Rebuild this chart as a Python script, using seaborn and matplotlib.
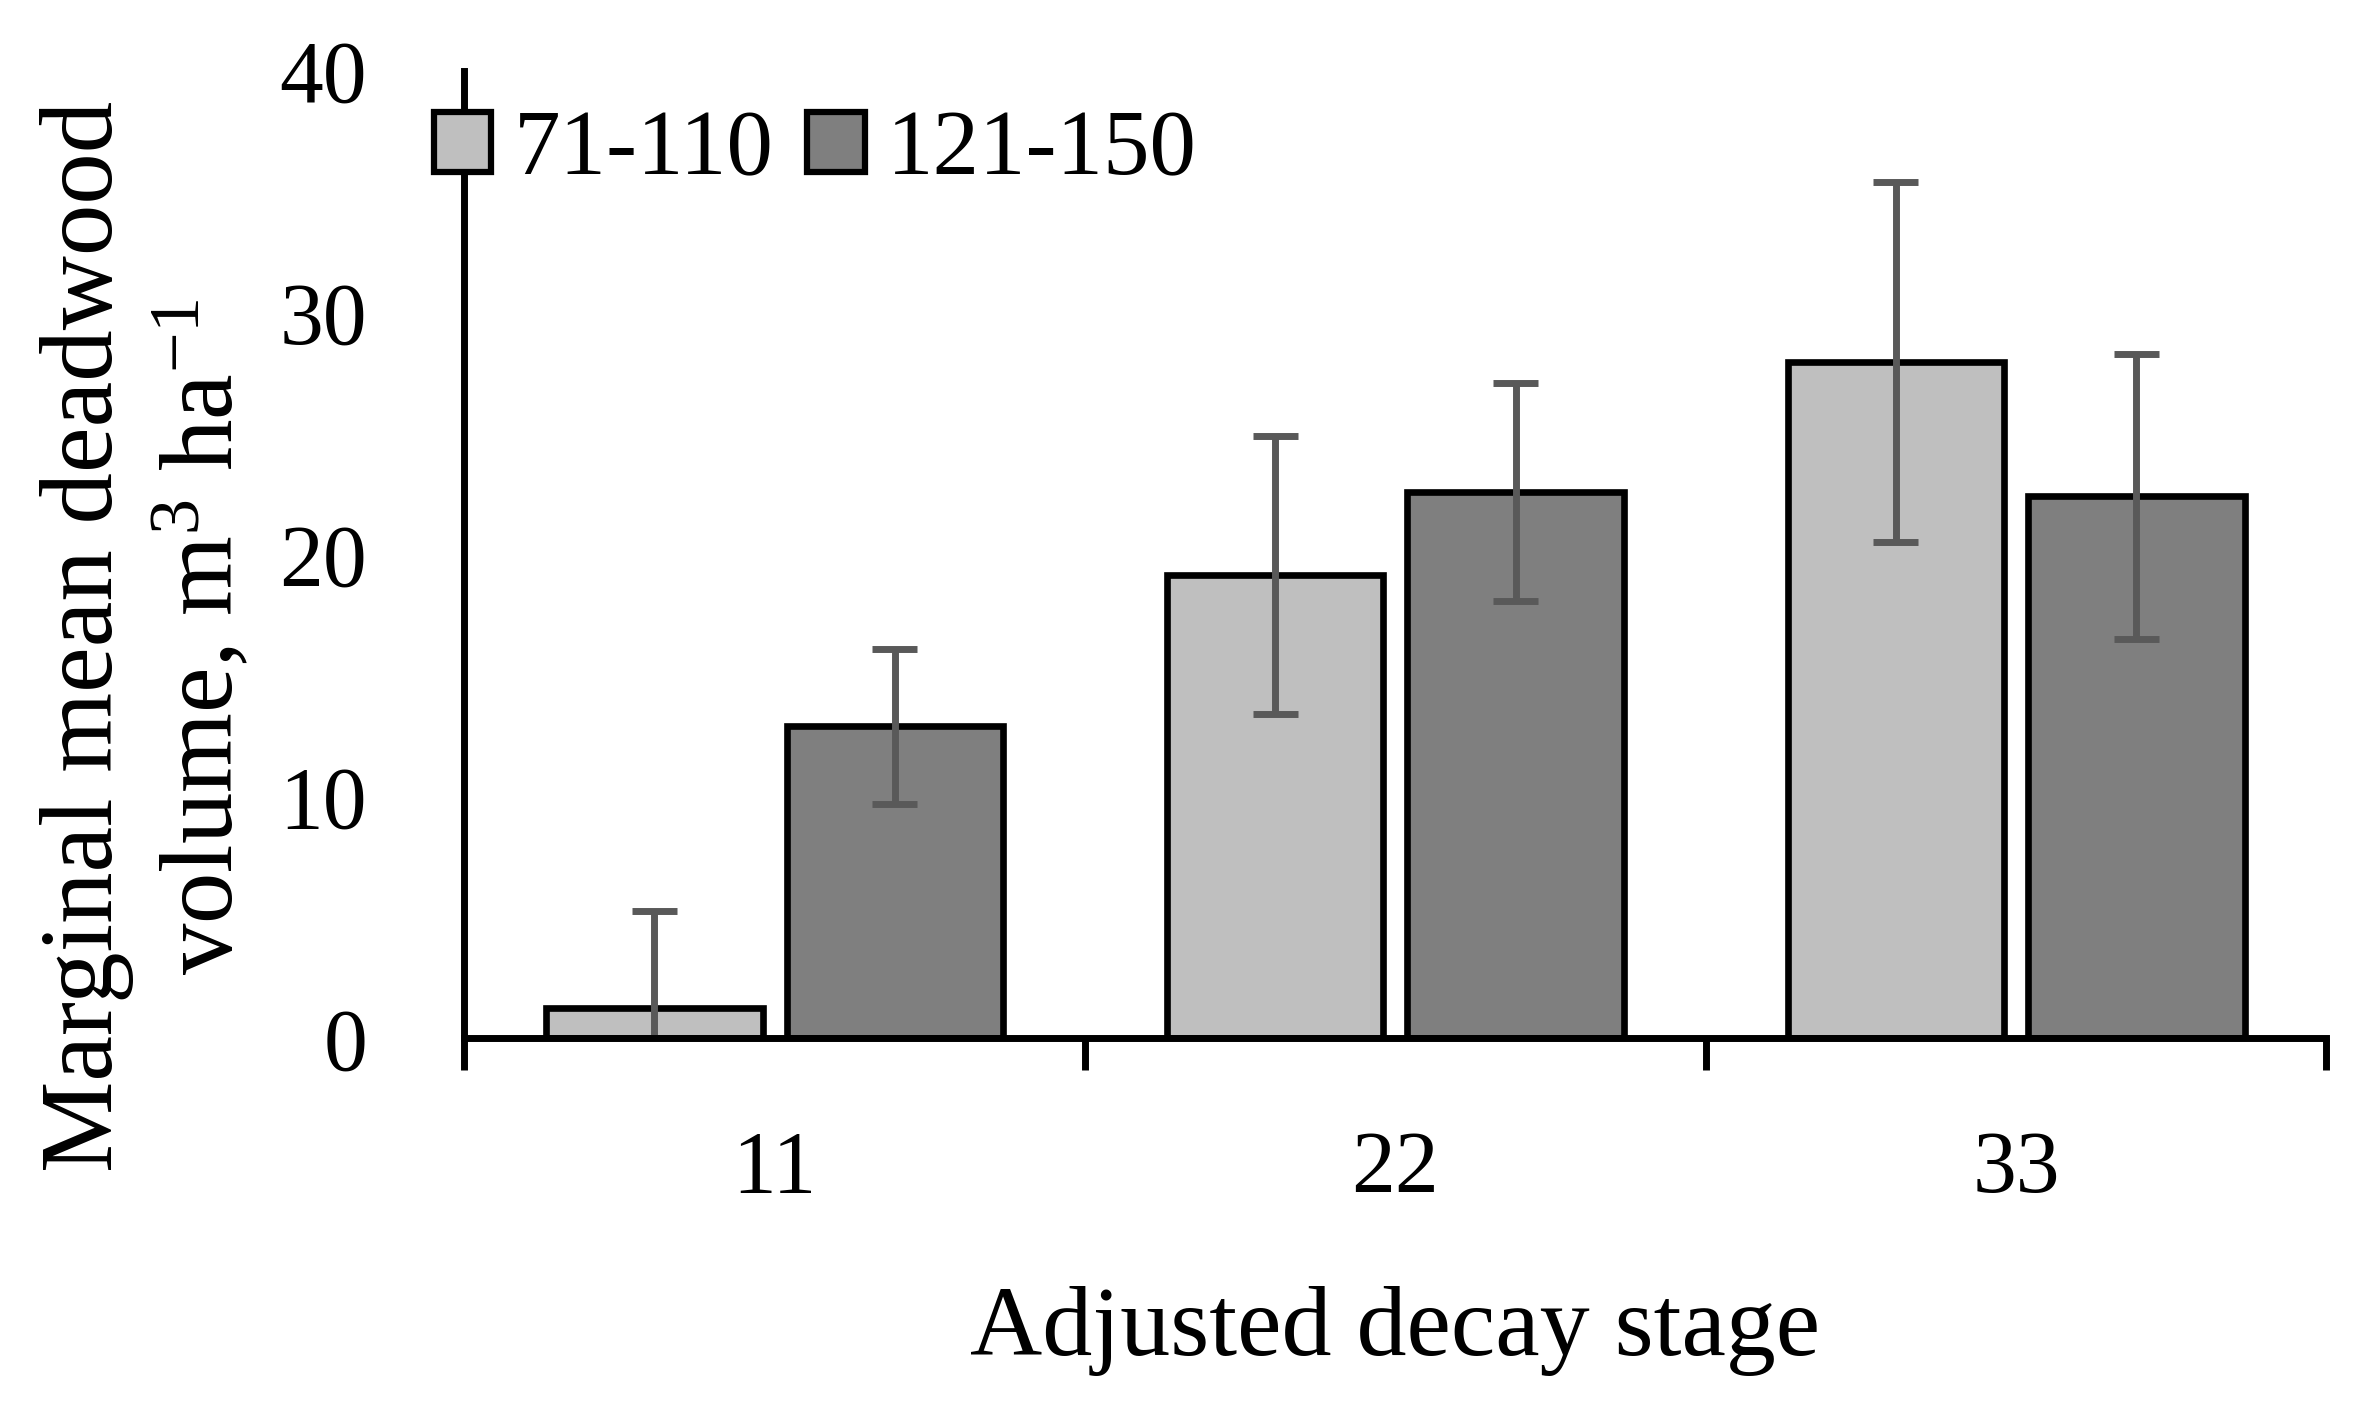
import numpy as np
import pandas as pd
import seaborn as sns
import matplotlib.pyplot as plt

# values
stages = ["11", "22", "33"]
ages = ["71-110", "121-150"]
mean_young = [1.25, 19.15, 27.95]
err_young = [4.0, 5.75, 7.45]
mean_old = [12.9, 22.6, 22.4]
err_old = [3.2, 4.5, 5.9]
palette = {"71-110": "#BFBFBF", "121-150": "#7F7F7F"}

# two rows per bar (mean - err, mean + err) so seaborn gives mean and the interval
rows = []
for age, means, errs in [(ages[0], mean_young, err_young), (ages[1], mean_old, err_old)]:
    for st, m, e in zip(stages, means, errs):
        rows.append({"stage": st, "age": age, "vol": m - e})
        rows.append({"stage": st, "age": age, "vol": m + e})
df = pd.DataFrame(rows)

sns.set_style("white")
plt.rcParams["font.family"] = ["Liberation Serif", "DejaVu Serif"]
plt.rcParams["mathtext.fontset"] = "custom"
plt.rcParams["mathtext.rm"] = "Liberation Serif"
plt.rcParams["mathtext.it"] = "Liberation Serif:italic"
plt.rcParams["text.color"] = "black"
plt.rcParams["axes.labelcolor"] = "black"
plt.rcParams["xtick.color"] = "black"
plt.rcParams["ytick.color"] = "black"

fig = plt.figure(figsize=(23.57, 14.02), dpi=100)
ax = fig.add_axes([0.197, 0.2593, 0.79, 0.6903])

sns.barplot(data=df, x="stage", y="vol", hue="age", order=stages, hue_order=ages,
            palette=palette, estimator="mean", errorbar=lambda v: (v.min(), v.max()),
            width=0.775, gap=0.1, capsize=0.145, edgecolor="black", linewidth=4.8,
            err_kws={"color": "#595959", "linewidth": 5.0, "solid_capstyle": "butt"}, ax=ax)

ax.set_ylim(0, 40)
ax.set_xlim(-0.5, 2.5)
ax.set_yticks([0, 10, 20, 30, 40])
ax.tick_params(axis="y", left=False, length=0, pad=70, labelsize=63, labelcolor="black")
ax.set_xticks([-0.5, 0.5, 1.5, 2.5], minor=True)
ax.tick_params(axis="x", which="major", bottom=True, length=0, pad=66, labelsize=63, labelcolor="black")
ax.tick_params(axis="x", which="minor", bottom=True, length=23, width=5, direction="out", color="black")

for side in ["top", "right"]:
    ax.spines[side].set_visible(False)
for side in ["left", "bottom"]:
    ax.spines[side].set_linewidth(5)
    ax.spines[side].set_color("black")

ax.set_xlabel("Adjusted decay stage", fontsize=72, color="black")
ax.xaxis.label.set_va("baseline")
ax.xaxis.set_label_coords(0.5, -0.327)

ax.set_ylabel("Marginal mean deadwood\nvolume, m$^{3}$ ha$^{-1}$", fontsize=74,
              linespacing=1.25, color="black")
ax.yaxis.label.set_va("center")
ax.yaxis.set_label_coords(-0.17, 0.415)

sns.move_legend(ax, loc="center left", bbox_to_anchor=(0.184, 0.8916),
                bbox_transform=fig.transFigure, ncol=2, frameon=False, title=None,
                fontsize=67, handlelength=0.62, handleheight=0.62,
                handletextpad=0.24, columnspacing=0.36, borderpad=0, borderaxespad=0)
leg = ax.get_legend()
for h in leg.legend_handles:
    h.set_edgecolor("black")
    h.set_linewidth(4.5)
for t in leg.get_texts():
    t.set_color("black")

fig.savefig("out.png", dpi=100)
